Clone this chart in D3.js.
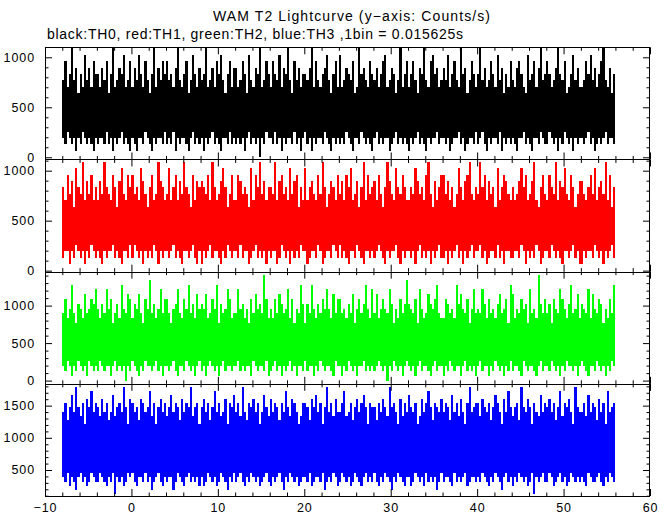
<!DOCTYPE html>
<html><head><meta charset="utf-8">
<script src="https://cdn.jsdelivr.net/npm/d3@7"></script>
<style>
body{margin:0;background:#fff}
svg{display:block}
</style>
</head><body>
<svg id="c" width="672" height="515"></svg>
<script>
// ---- data ----
const titleText = "WAM T2 Lightcurve (y\u2212axis: Counts/s)";
const subtitleText = "black:TH0, red:TH1, green:TH2, blue:TH3 ,1bin = 0.015625s";
const binWidth = 0.015625;      // s per bin -> counts/s = counts / binWidth
const tStart = -8;              // s
const segDur = 0.25;            // each entry: max / min bin count within 0.25 s
const seriesNames = ["TH0", "TH1", "TH2", "TH3"];
const seriesColors = ["#000000", "#ff0000", "#00ff00", "#0000ff"];
const xDomain = [-10, 60];
const xMajorTicks = [-10, 0, 10, 20, 30, 40, 50, 60];
const xMinorStep = 2;
const yDomains = [[-22, 1100], [-10, 1112], [-43, 1453], [96, 1839]];
const yMajorTicks = [[0, 500, 1000], [0, 500, 1000], [0, 500, 1000], [500, 1000, 1500]];
const yMinorStep = 100;

const th0Max = [
12,15,11,13,17,12,14,10,13,11,16,12,14,11,15,13,
13,11,14,12,15,10,13,17,11,12,14,13,16,11,12,15,
11,14,12,16,13,11,15,12,10,13,17,11,14,12,15,13,
15,12,13,11,14,17,12,11,13,15,10,12,16,13,11,14,
12,13,17,11,12,14,11,15,13,16,12,10,13,15,11,14,
14,11,12,15,13,10,16,12,11,14,13,17,11,12,15,13,
11,15,13,12,16,11,14,13,17,12,10,15,12,14,11,13,
13,12,14,17,11,15,12,11,13,14,16,12,10,13,15,11,
16,11,12,14,13,12,15,10,11,17,13,14,12,11,15,13,
12,14,11,13,15,16,11,12,14,13,10,12,17,11,13,15,
11,13,15,12,10,14,13,17,12,11,15,16,13,14,11,12,
14,12,16,11,13,15,12,11,17,13,14,10,12,15,13,11,
13,17,12,14,11,12,15,13,11,16,12,14,10,13,11,15,
12,11,14,15,13,11,10,16,12,13,15,11,14,17,12,13,
15,13,11,12,14,17,13,12,15,10,11,13,16,12,14,11,
11,12,15,13,16,12,14,11,13,15,17,12,11,14,10,13];
const th0Min = [
3,2,4,3,2,3,1,3,2,4,3,2,3,2,1,3,
2,3,3,2,4,2,3,1,3,2,3,4,2,3,2,1,
3,2,1,3,3,2,4,3,2,1,3,2,3,3,2,4,
2,3,2,4,1,3,2,3,3,2,1,3,4,2,3,2,
3,1,3,2,3,4,2,3,2,1,3,3,2,4,2,3,
2,3,2,3,1,3,4,2,3,2,3,0,3,2,4,3,
3,2,4,2,3,1,3,2,3,3,2,4,2,3,1,3,
4,2,3,1,3,2,3,3,2,4,3,2,1,3,2,3,
2,3,2,4,3,2,1,3,3,2,4,3,2,3,2,1,
3,4,2,3,2,3,3,1,2,3,4,2,3,2,3,2,
1,3,2,3,4,2,3,2,1,3,2,3,3,4,2,3,
3,2,3,1,2,3,3,4,2,3,1,2,3,3,2,4,
2,3,4,2,1,3,2,3,3,2,4,1,3,2,3,2,
3,2,1,3,3,4,2,3,2,1,3,3,2,4,3,2,
2,4,3,2,3,1,3,2,4,3,2,3,1,3,2,3,
3,2,3,4,2,3,1,2,3,2,3,4,2,3,3,2];

const th1Max = [
13,11,15,12,14,10,16,13,12,17,11,14,12,15,11,13,
11,14,12,17,13,12,11,15,13,10,14,16,12,11,15,13,
15,12,13,11,16,14,12,10,13,15,11,12,17,14,13,11,
12,16,11,13,15,11,14,12,17,13,12,10,15,11,14,13,
14,13,12,15,11,17,13,11,12,14,16,13,10,12,15,11,
11,15,14,12,13,12,10,16,11,15,13,17,12,14,11,13,
13,12,17,11,14,15,12,13,11,16,12,14,15,10,13,11,
16,11,13,14,12,11,15,12,17,13,10,12,14,13,11,15,
12,14,11,15,13,16,11,12,14,10,13,17,11,15,12,13,
14,11,15,12,10,13,17,14,12,11,16,13,12,15,13,11,
11,13,12,16,14,12,13,11,15,17,12,10,14,11,13,15,
15,12,14,11,13,10,12,16,13,11,14,15,17,12,11,13,
12,17,13,15,11,14,12,13,10,16,11,13,15,14,12,11,
13,11,12,14,16,13,15,11,12,14,17,11,10,13,15,12,
11,15,13,12,17,11,14,13,16,12,11,15,13,10,12,14,
14,12,11,13,15,12,16,11,13,14,12,17,11,15,10,13];
const th1Min = [
2,3,3,1,3,2,4,3,2,3,1,3,2,4,3,2,
3,2,1,3,2,3,3,4,2,3,2,1,3,3,2,4,
2,4,3,2,3,1,3,2,3,2,4,3,1,3,2,3,
3,2,3,4,2,3,2,1,3,3,2,3,4,2,1,3,
1,3,2,3,4,2,3,3,2,1,3,2,4,3,2,3,
3,2,4,2,3,3,1,2,3,4,2,3,2,3,1,3,
2,3,3,1,2,4,3,2,3,1,3,2,3,2,4,3,
3,1,2,3,3,2,4,3,1,2,3,3,2,4,3,2,
4,2,3,2,1,3,3,2,4,3,2,1,3,3,2,3,
2,3,4,3,2,1,3,2,3,3,4,2,1,3,2,3,
3,2,3,1,3,4,2,3,2,3,1,3,2,3,4,2,
2,3,1,3,2,3,4,2,3,1,3,2,3,4,2,3,
3,4,2,3,1,2,3,3,2,4,2,3,1,3,3,2,
2,3,3,2,4,3,1,3,2,3,2,4,3,1,2,3,
3,2,4,3,2,3,2,1,3,3,2,3,4,2,3,1,
1,3,2,3,3,2,4,3,2,3,1,3,2,3,4,2];

const th2Max = [
14,17,13,15,20,14,12,16,15,13,18,14,15,17,16,19,
15,13,16,14,19,15,17,12,14,16,13,20,15,14,18,17,
13,16,15,18,14,12,17,15,21,14,16,13,15,19,14,17,
17,14,12,15,16,19,14,13,17,15,20,14,16,13,18,15,
16,15,18,13,14,17,15,20,12,16,14,15,19,17,13,14,
14,19,15,16,13,15,12,17,14,18,15,16,14,22,17,13,
15,13,17,14,18,16,14,15,19,13,17,12,15,14,20,16,
12,16,14,20,15,13,16,14,17,15,19,15,13,18,14,17,
17,14,15,13,16,14,18,12,15,17,14,16,20,15,13,19,
14,18,13,15,17,15,14,19,16,12,15,13,17,14,16,21,
16,15,14,17,12,19,15,13,14,18,16,15,17,20,14,13,
13,17,16,14,15,13,20,16,18,15,14,17,12,15,19,14,
15,14,19,16,13,17,14,15,13,16,18,14,15,17,12,20,
18,13,15,14,17,15,16,12,19,14,15,13,22,16,14,17,
14,16,12,17,15,14,19,17,15,13,16,20,14,15,18,13,
16,15,14,19,13,18,15,14,17,16,12,15,13,17,14,20];
const th2Min = [
3,2,4,3,1,3,2,4,3,2,3,1,4,3,2,3,
2,4,3,2,3,3,1,3,4,2,3,2,3,0,3,2,
4,3,2,1,3,2,4,3,3,2,3,4,2,3,1,3,
3,2,3,4,2,1,3,3,2,4,3,2,3,1,3,4,
2,3,1,3,4,3,2,3,1,3,4,2,3,3,2,3,
3,4,2,3,2,3,3,1,4,3,2,3,3,2,4,1,
2,3,4,2,3,1,3,2,3,4,2,3,1,3,3,2,
4,2,3,3,1,3,2,4,3,2,3,3,2,1,4,3,
3,1,3,2,4,3,2,3,1,3,3,4,2,3,2,3,
2,3,4,3,2,3,0,3,2,4,3,2,3,1,3,4,
3,2,3,1,3,4,2,3,3,2,1,3,4,2,3,3,
1,3,2,4,3,2,3,3,1,3,4,2,3,2,3,1,
3,4,2,3,3,1,3,2,4,3,2,3,1,3,2,4,
2,3,3,2,1,4,3,2,3,3,2,1,3,4,2,3,
3,2,4,3,2,3,1,3,2,4,3,3,2,3,1,3,
4,3,2,1,3,3,2,4,3,2,3,1,3,2,4,3];

const th3Max = [
22,24,20,23,26,22,28,23,21,24,19,25,23,27,22,24,
23,21,25,22,24,20,22,26,21,23,24,22,28,23,19,25,
24,22,23,20,25,24,22,23,27,21,24,19,23,25,22,24,
21,23,26,22,24,23,20,25,22,24,23,28,21,23,24,19,
23,25,22,24,20,23,27,22,24,21,22,25,19,24,23,26,
22,24,21,28,22,20,24,23,25,22,24,19,22,26,23,21,
25,22,24,23,20,24,22,27,23,21,25,24,22,19,21,24,
24,23,20,25,23,26,22,24,19,23,28,22,24,21,25,22,
22,24,27,21,22,24,20,23,25,22,24,26,23,19,24,23,
23,20,24,22,25,23,21,28,23,24,22,19,25,21,24,22,
26,23,22,24,19,21,25,22,24,27,23,20,24,23,22,25,
22,24,23,20,26,22,24,21,25,22,19,24,28,22,23,24,
24,21,25,23,22,24,20,23,26,24,22,19,25,22,27,23,
21,23,24,20,28,23,22,25,23,19,24,22,21,26,22,24,
23,25,22,24,20,23,27,21,24,23,25,22,19,28,23,22,
22,24,21,26,22,24,23,20,25,22,24,19,27,22,23,24];
const th3Min = [
6,5,7,4,6,5,3,6,7,5,6,4,5,7,6,5,
5,7,6,5,4,6,5,7,2,6,5,6,4,5,7,6,
7,5,4,6,6,5,7,5,6,3,5,6,7,5,4,6,
5,6,6,3,5,7,6,5,4,6,7,5,6,5,6,4,
6,4,5,7,6,5,6,4,5,7,6,5,3,6,5,7,
5,6,7,5,4,6,5,7,6,5,6,4,5,6,7,5,
4,6,5,6,7,5,3,6,5,7,6,5,6,4,5,6,
6,5,7,4,5,6,6,5,7,3,5,6,5,7,6,4,
5,7,6,5,6,4,5,7,6,5,4,6,7,5,6,5,
7,5,4,6,5,7,6,5,3,6,5,7,6,5,4,6,
6,4,5,7,6,5,6,4,7,5,6,5,6,3,5,7,
5,6,6,5,4,7,5,6,5,6,7,4,5,6,6,5,
6,5,7,6,5,4,6,5,7,6,5,3,6,7,5,6,
4,6,5,7,6,5,6,4,5,7,2,6,5,6,7,5,
5,7,6,4,5,6,7,5,6,4,5,7,6,5,6,5,
6,5,4,7,6,5,5,6,7,5,4,6,5,7,6,5];

const seriesMax = [th0Max, th1Max, th2Max, th3Max];
const seriesMin = [th0Min, th1Min, th2Min, th3Min];

// ---- drawing ----
const L = 45, R = 650, T = 47.3, B = 496;
const nP = 4, ph = (B - T) / nP;
const svg = d3.select("#c");
const FONT = "'Liberation Sans', Arial, Helvetica, sans-serif";

const x = d3.scaleLinear().domain(xDomain).range([L, R]);
const xMinor = d3.range(xDomain[0], xDomain[1] + 0.001, xMinorStep).filter(v => !xMajorTicks.includes(v));

svg.append("text").attr("x", 351.5).attr("y", 20.5)
  .attr("text-anchor", "middle").attr("font-family", FONT).attr("font-size", 14)
  .attr("textLength", 277).attr("lengthAdjust", "spacing").text(titleText);
svg.append("text").attr("x", 47).attr("y", 38.5)
  .attr("text-anchor", "start").attr("font-family", FONT).attr("font-size", 14)
  .attr("textLength", 416).attr("lengthAdjust", "spacing").text(subtitleText);

const defs = svg.append("defs");

function styleAxis(g) {
  g.select(".domain").remove();
  g.selectAll("line").attr("stroke", "#000").attr("stroke-width", 1);
  g.attr("font-family", FONT).attr("font-size", 12.5);
  g.selectAll("text").attr("fill", "#000").attr("letter-spacing", "0.9px");
}

seriesNames.forEach((name, i) => {
  const top = T + i * ph, bot = T + (i + 1) * ph;
  const y = d3.scaleLinear().domain(yDomains[i]).range([bot, top]);
  const clipId = "clip" + i;
  defs.append("clipPath").attr("id", clipId).append("rect")
    .attr("x", L).attr("y", top).attr("width", R - L).attr("height", bot - top);

  const segs = seriesMax[i].map((hi, k) => ({
    t0: tStart + k * segDur,
    hi: hi / binWidth,
    lo: seriesMin[i][k] / binWidth
  }));

  svg.append("g").attr("clip-path", `url(#${clipId})`)
    .attr("fill", seriesColors[i]).attr("shape-rendering", "crispEdges")
    .selectAll("rect").data(segs).join("rect")
    .attr("x", d => x(d.t0))
    .attr("width", d => x(d.t0 + segDur) - x(d.t0))
    .attr("y", d => y(d.hi))
    .attr("height", d => y(d.lo) - y(d.hi));

  const yMinor = d3.range(Math.ceil(yDomains[i][0] / yMinorStep) * yMinorStep, yDomains[i][1], yMinorStep)
    .filter(v => !yMajorTicks[i].includes(v));

  svg.append("g").attr("transform", `translate(${L},0)`)
    .call(d3.axisLeft(y).tickValues(yMajorTicks[i]).tickSizeInner(-7).tickSizeOuter(0).tickPadding(10).tickFormat(d3.format("d")))
    .call(styleAxis);
  svg.append("g").attr("transform", `translate(${L},0)`)
    .call(d3.axisLeft(y).tickValues(yMinor).tickSizeInner(-3.5).tickSizeOuter(0).tickFormat(""))
    .call(styleAxis);
  svg.append("g").attr("transform", `translate(${R},0)`)
    .call(d3.axisRight(y).tickValues(yMajorTicks[i]).tickSizeInner(-7).tickSizeOuter(0).tickFormat(""))
    .call(styleAxis);
  svg.append("g").attr("transform", `translate(${R},0)`)
    .call(d3.axisRight(y).tickValues(yMinor).tickSizeInner(-3.5).tickSizeOuter(0).tickFormat(""))
    .call(styleAxis);
  svg.append("g").attr("transform", `translate(0,${top})`)
    .call(d3.axisTop(x).tickValues(xMajorTicks).tickSizeInner(-7).tickSizeOuter(0).tickFormat(""))
    .call(styleAxis);
  svg.append("g").attr("transform", `translate(0,${top})`)
    .call(d3.axisTop(x).tickValues(xMinor).tickSizeInner(-3.5).tickSizeOuter(0).tickFormat(""))
    .call(styleAxis);
  const last = i === nP - 1;
  svg.append("g").attr("transform", `translate(0,${bot})`)
    .call(d3.axisBottom(x).tickValues(xMajorTicks).tickSizeInner(-7).tickSizeOuter(0).tickPadding(7)
      .tickFormat(last ? d3.format("d") : ""))
    .call(styleAxis);
  svg.append("g").attr("transform", `translate(0,${bot})`)
    .call(d3.axisBottom(x).tickValues(xMinor).tickSizeInner(-3.5).tickSizeOuter(0).tickFormat(""))
    .call(styleAxis);

  svg.append("rect").attr("x", L + 0.5).attr("y", Math.round(top) + 0.5)
    .attr("width", R - L - 1).attr("height", Math.round(bot) - Math.round(top))
    .attr("fill", "none").attr("stroke", "#000").attr("stroke-width", 1);
});
</script>
</body></html>
